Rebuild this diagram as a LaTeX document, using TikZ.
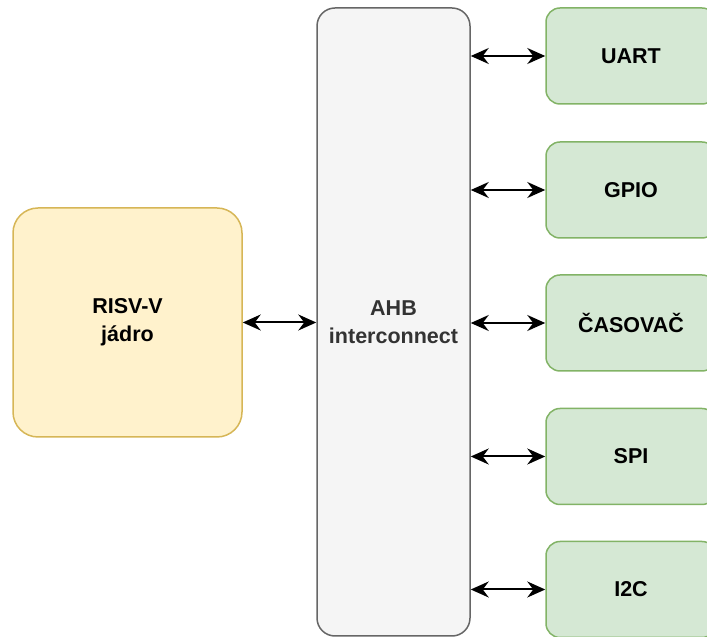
\documentclass[tikz,border=0pt]{standalone}
\usepackage{fontspec}
\setmainfont{Liberation Sans}
\usetikzlibrary{arrows.meta}

\definecolor{coreFill}{HTML}{FFF2CC}
\definecolor{coreLine}{HTML}{D6B656}
\definecolor{busFill}{HTML}{F5F5F5}
\definecolor{busLine}{HTML}{666666}
\definecolor{busText}{HTML}{333333}
\definecolor{perFill}{HTML}{D5E8D4}
\definecolor{perLine}{HTML}{82B366}

\begin{document}
\begin{tikzpicture} [x=1pt, y=1pt,
  box/.style={draw, line width=1.5pt, align=center, inner sep=0pt,
    font=\fontsize{21.5}{28}\selectfont\bfseries},
  core/.style={box, fill=coreFill, draw=coreLine, rounded corners=25pt,
    minimum width=229pt, minimum height=229pt},
  bus/.style={box, fill=busFill, draw=busLine, text=busText, rounded corners=18pt,
    minimum width=153pt, minimum height=628pt},
  periph/.style={box, fill=perFill, draw=perLine, rounded corners=14pt,
    minimum width=170pt, minimum height=96pt},
  link/.style={line width=2pt, {Stealth[length=18pt,width=16pt,inset=6pt]}-{Stealth[length=18pt,width=16pt,inset=6pt]}}
]

\useasboundingbox (0,0) rectangle (707,637);

\node[core] (core) at (127.5,314.5) {RISV-V\\jádro};
\node[bus] (ahb) at (393.5,315) {AHB\\interconnect};

\foreach \name/\txt/\y in {uart/UART/581, gpio/GPIO/447, timer/ČASOVAČ/314,
                          spi/SPI/180.5, iic/I2C/47.5} {
 \node[periph] (\name) at (631,\y) {\txt};
 \draw[link] (ahb.east |- \name.west) -- (\name.west);
};

\draw[link] (core.east) -- (ahb.west |- core.east);
\end{tikzpicture}
\end{document}
